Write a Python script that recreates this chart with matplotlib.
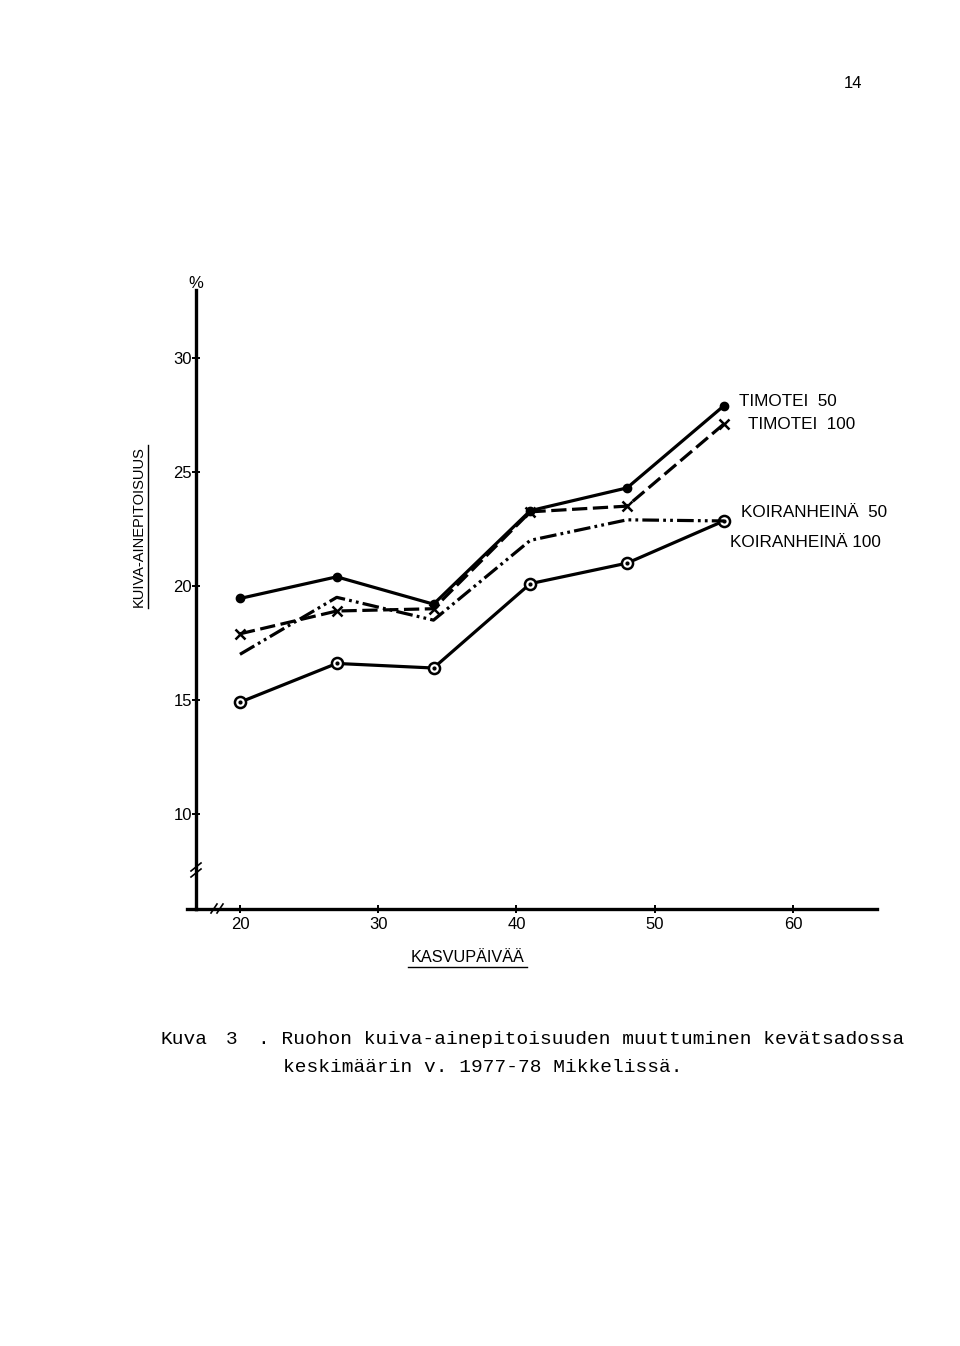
import matplotlib
matplotlib.use("Agg")
import matplotlib.pyplot as plt
from matplotlib.lines import Line2D

plt.rcParams['font.family'] = ['Liberation Sans', 'DejaVu Sans']
plt.rcParams['lines.scale_dashes'] = False

# ---- data ----
days = [20, 27, 34, 41, 48, 55]
timotei_50 = [19.45, 20.4, 19.2, 23.3, 24.3, 27.9]
timotei_100 = [17.9, 18.9, 19.0, 23.25, 23.5, 27.1]
koiranheina_50 = [14.9, 16.6, 16.4, 20.1, 21.0, 22.85]
koiranheina_100 = [17.0, 19.5, 18.5, 22.0, 22.9, 22.85]

x_ticks = [20, 30, 40, 50, 60]
y_ticks = [10, 15, 20, 25, 30]
series_labels = ["TIMOTEI  50", "TIMOTEI  100", "KOIRANHEINÄ  50", "KOIRANHEINÄ 100"]
x_label = "KASVUPÄIVÄÄ"
y_label = "KUIVA-AINEPITOISUUS"
caption_1a = "Kuva"
caption_1b = "3"
caption_1c = ". Ruohon kuiva-ainepitoisuuden muuttuminen kevätsadossa"
caption_2 = "keskimäärin v. 1977-78 Mikkelissä."
page_no = "14"

W, H = 960, 1346
fig = plt.figure(figsize=(W / 100, H / 100), dpi=100)
fig.patch.set_facecolor('white')


def fx(x):
    return x / W


def fy(y):
    return 1 - y / H


ax = fig.add_axes([fx(196), fy(909), fx(877) - fx(196), fy(290) - fy(909)])
ax.set_xlim(16.82, 66.08)
ax.set_ylim(5.83, 32.98)

for s in ['top', 'right']:
    ax.spines[s].set_visible(False)
for s in ['left', 'bottom']:
    ax.spines[s].set_linewidth(2.4)
    ax.spines[s].set_color('black')

ax.set_xticks(x_ticks)
ax.set_yticks(y_ticks)
ax.set_xticklabels([str(v) for v in x_ticks])
ax.set_yticklabels([str(v) for v in y_ticks])
ax.tick_params(axis='both', direction='inout', length=6, width=1.4)
ax.tick_params(axis='x', pad=3, labelsize=12)
ax.tick_params(axis='y', pad=0, labelsize=12)

lw = 2.3
# TIMOTEI 50: solid with filled dots
ax.plot(days, timotei_50, color='black', lw=lw, marker='o', ms=6,
        mfc='black', mec='black', solid_capstyle='round')
# TIMOTEI 100: dashed with x markers
ax.plot(days, timotei_100, color='black', lw=lw, linestyle=(0, (11, 4)),
        marker='x', ms=7, mew=1.8)
# KOIRANHEINÄ 50: solid with circled dots
ax.plot(days, koiranheina_50, color='black', lw=lw, marker='o', ms=8,
        mfc='white', mec='black', mew=1.8)
ax.plot(days, koiranheina_50, linestyle='none', marker='o', ms=2, color='black')
# KOIRANHEINÄ 100: dash-dot-dot
ax.plot(days, koiranheina_100, color='black', lw=lw,
        linestyle=(0, (12, 3, 2, 3, 2, 3)))

# labels at line ends
offsets = [(15, 4), (24, 0), (17, 8), (6, -22)]
series = [timotei_50, timotei_100, koiranheina_50, koiranheina_100]
for lab, ser, off in zip(series_labels, series, offsets):
    ax.annotate(lab, xy=(days[-1], ser[-1]), xytext=off,
                textcoords='offset pixels', ha='left', va='center',
                fontsize=12.3, annotation_clip=False)

# axis labels (underlined)
fig.text(fx(468), fy(957), x_label, ha='center', va='center', fontsize=11.7)
fig.add_artist(Line2D([fx(408), fx(527)], [fy(967), fy(967)], color='black',
                      lw=1.0, transform=fig.transFigure))
fig.text(fx(139), fy(527), y_label, ha='center', va='center', fontsize=10.5,
         rotation=90)
fig.add_artist(Line2D([fx(148), fx(148)], [fy(445), fy(608)], color='black',
                      lw=1.0, transform=fig.transFigure))
fig.text(fx(196), fy(283), "%", ha='center', va='center', fontsize=12)

# small overhang of the x axis to the left of the y axis
fig.add_artist(Line2D([fx(187), fx(196)], [fy(909), fy(909)], color='black',
                      lw=2.4, transform=fig.transFigure))

# axis break marks
for dy in (0, 6):
    fig.add_artist(Line2D([fx(191), fx(201)], [fy(877 - dy), fy(869 - dy)],
                          color='black', lw=1.2, transform=fig.transFigure))
for dx in (0, 6):
    fig.add_artist(Line2D([fx(211 + dx), fx(217 + dx)], [fy(913), fy(904)],
                          color='black', lw=1.2, transform=fig.transFigure))

# page number
fig.text(fx(853), fy(83), page_no, ha='center', va='center', fontsize=12)

# caption
mono = ['Liberation Mono', 'DejaVu Sans Mono']
fig.text(fx(160), fy(1040), caption_1a, ha='left', va='center', fontsize=14, family=mono)
fig.text(fx(226), fy(1040), caption_1b, ha='left', va='center', fontsize=14, family=mono)
fig.text(fx(258), fy(1040), caption_1c, ha='left', va='center', fontsize=14, family=mono)
fig.text(fx(283), fy(1068), caption_2, ha='left', va='center', fontsize=14, family=mono)

fig.savefig('out.png', dpi=100, facecolor='white')
